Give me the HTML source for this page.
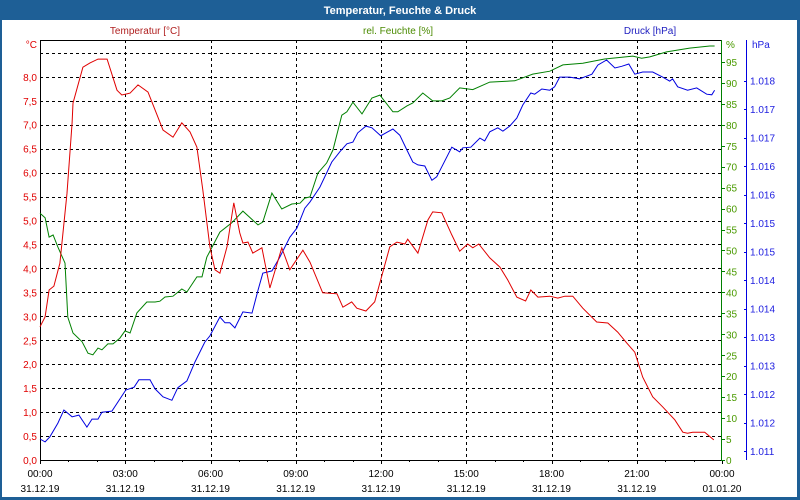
<!DOCTYPE html>
<html><head><meta charset="utf-8"><style>
body{margin:0;background:#fff}
svg{display:block;font-family:"Liberation Sans",sans-serif}
</style></head><body>
<svg id="chart" width="800" height="500" viewBox="0 0 800 500">
<rect x="0" y="0" width="800" height="500" fill="#1e5f96"/>
<rect x="2" y="20" width="795" height="477" fill="#ffffff"/>
<text x="400" y="14" text-anchor="middle" fill="#fff" font-size="11" font-weight="bold">Temperatur, Feuchte &amp; Druck</text>
<text x="145" y="34" text-anchor="middle" fill="#b02020" font-size="10">Temperatur [°C]</text>
<text x="398" y="34" text-anchor="middle" fill="#4a8a00" font-size="10">rel. Feuchte [%]</text>
<text x="650" y="34" text-anchor="middle" fill="#2020c0" font-size="10">Druck [hPa]</text>
<g id="grid"></g>
<g id="axes"></g>
<g id="series"></g>
</svg>
<script>
const xTickHours=[0,3,6,9,12,15,18,21,24];
const xTickTimes=["00:00","03:00","06:00","09:00","12:00","15:00","18:00","21:00","00:00"];
const xTickDates=["31.12.19","31.12.19","31.12.19","31.12.19","31.12.19","31.12.19","31.12.19","31.12.19","01.01.20"];
const tempTicks=[0,0.5,1,1.5,2,2.5,3,3.5,4,4.5,5,5.5,6,6.5,7,7.5,8];
const tempTickLabels=["0,0","0,5","1,0","1,5","2,0","2,5","3,0","3,5","4,0","4,5","5,0","5,5","6,0","6,5","7,0","7,5","8,0"];
const humTicks=[0,5,10,15,20,25,30,35,40,45,50,55,60,65,70,75,80,85,90,95];
const presTicks=[1011,1011.5,1012,1012.5,1013,1013.5,1014,1014.5,1015,1015.5,1016,1016.5,1017,1017.5];
const presTickLabels=["1.011","1.012","1.012","1.013","1.013","1.014","1.014","1.015","1.015","1.016","1.016","1.017","1.017","1.018"];

const tempTime=[0,.18,.32,.49,.70,.95,1.13,1.16,1.51,1.76,2.04,2.36,2.71,2.88,3.17,3.45,3.80,4.33,4.68,4.99,5.28,5.52,5.73,5.98,6.16,6.33,6.58,6.82,7.03,7.14,7.32,7.49,7.81,8.09,8.51,8.79,9.25,9.50,9.95,10.45,10.66,10.97,11.15,11.47,11.78,11.96,12.31,12.56,12.84,12.94,13.30,13.65,13.82,14.14,14.49,14.77,15.05,15.23,15.44,15.83,16.18,16.46,16.78,17.09,17.27,17.52,17.94,18.22,18.47,18.75,19.10,19.59,19.98,20.33,20.65,20.93,21.21,21.56,21.91,22.34,22.62,22.79,22.97,23.39,23.71];
const tempValues=[2.78,2.99,3.55,3.63,4.11,5.57,7.04,7.45,8.20,8.29,8.37,8.37,7.72,7.62,7.66,7.83,7.68,6.89,6.74,7.04,6.85,6.53,5.64,4.45,3.97,3.90,4.45,5.37,4.74,4.53,4.55,4.32,4.43,3.59,4.43,3.97,4.38,4.13,3.49,3.47,3.19,3.30,3.17,3.11,3.30,3.70,4.45,4.55,4.51,4.61,4.32,5.01,5.18,5.16,4.70,4.36,4.51,4.43,4.51,4.22,4.03,3.76,3.40,3.32,3.55,3.40,3.42,3.38,3.42,3.42,3.17,2.88,2.86,2.67,2.44,2.25,1.73,1.32,1.11,0.84,0.58,0.56,0.58,0.58,0.42];

const humTime=[0,.18,.32,.46,.63,.88,.98,1.16,1.48,1.69,1.86,2.04,2.18,2.39,2.57,2.81,2.99,3.17,3.41,3.76,4.05,4.22,4.40,4.68,4.99,5.17,5.52,5.70,5.87,6.33,6.75,7.14,7.67,7.84,8.16,8.51,8.86,9.15,9.32,9.50,9.78,10.09,10.31,10.62,10.80,11.01,11.33,11.68,11.96,12.42,12.59,12.91,13.12,13.47,13.82,14.14,14.42,14.77,15.23,15.83,16.71,17.34,17.94,18.40,19.10,19.87,20.86,21.17,21.46,22.05,22.86,23.57,23.74];
const humValues=[58.9,57.8,53.2,53.7,50.8,47.0,34.1,30.3,28.2,25.5,25.1,26.7,26.3,27.7,27.7,29.1,30.8,30.3,35.1,37.7,37.7,37.9,38.9,39.1,40.8,40.1,43.7,43.7,48.4,54.4,56.6,59.4,56.1,56.8,63.7,59.9,61.1,61.3,62.5,62.8,68.5,70.9,74.0,82.3,83.1,85.4,82.6,86.4,87.1,83.1,83.1,84.5,85.2,87.6,85.7,85.7,86.4,88.8,88.4,90.2,90.5,92.1,92.8,94.3,94.7,95.7,96.4,95.9,96.2,97.4,98.3,98.8,98.8];

const presTime=[0,.18,.35,.63,.84,1.13,1.37,1.65,1.83,2.04,2.18,2.53,3.02,3.31,3.48,3.87,4.05,4.33,4.64,4.85,5.17,5.45,5.80,5.98,6.33,6.51,6.68,6.86,7.14,7.46,7.67,7.84,8.16,8.44,8.79,9.04,9.32,9.50,9.85,10.27,10.55,10.80,11.01,11.18,11.47,11.68,11.99,12.24,12.42,12.66,12.91,13.12,13.30,13.54,13.79,13.96,14.49,14.77,14.88,15.16,15.48,15.65,15.83,16.11,16.29,16.53,16.78,16.99,17.27,17.41,17.66,17.94,18.11,18.29,18.64,18.99,19.42,19.63,19.94,20.23,20.47,20.72,20.93,21.21,21.56,21.91,22.16,22.26,22.44,22.79,23.11,23.46,23.64,23.74];
const presValues=[1011.21,1011.16,1011.25,1011.49,1011.72,1011.60,1011.63,1011.42,1011.56,1011.56,1011.68,1011.70,1012.07,1012.12,1012.25,1012.25,1012.09,1011.95,1011.89,1012.11,1012.23,1012.56,1012.91,1013.02,1013.35,1013.25,1013.25,1013.16,1013.44,1013.42,1013.82,1014.12,1014.16,1014.40,1014.75,1014.91,1015.26,1015.37,1015.63,1016.07,1016.25,1016.39,1016.42,1016.58,1016.70,1016.67,1016.53,1016.60,1016.65,1016.54,1016.28,1016.07,1016.02,1016.00,1015.75,1015.81,1016.33,1016.25,1016.32,1016.33,1016.49,1016.44,1016.60,1016.67,1016.61,1016.70,1016.84,1017.07,1017.28,1017.26,1017.35,1017.33,1017.39,1017.56,1017.56,1017.53,1017.61,1017.77,1017.86,1017.72,1017.75,1017.79,1017.61,1017.65,1017.65,1017.56,1017.49,1017.53,1017.39,1017.33,1017.37,1017.26,1017.25,1017.33];

const NS="http://www.w3.org/2000/svg";
const L=40,R=722,T=40,B=460;
function xS(h){return L+h*(R-L)/24;}
function yT(v){return B-v*47.9;}
function yH(v){return B-v*4.19;}
function yP(v){return 451-(v-1011)*57;}
function mk(tag,attrs,parent){const e=document.createElementNS(NS,tag);for(const k in attrs)e.setAttribute(k,attrs[k]);parent.appendChild(e);return e;}
const grid=document.getElementById('grid'),axes=document.getElementById('axes'),series=document.getElementById('series');

for(let k=1;k<=17;k++){const y=Math.round(yT(k*0.5))+0.5;
 const ln=mk('line',{x1:L,x2:R,y1:y,y2:y,stroke:'#000','stroke-dasharray':'3,3','stroke-width':1},grid);
 
 }
xTickHours.forEach((h,i)=>{const x=Math.round(xS(h))+0.5;
 if(i>0&&i<xTickHours.length-1){const ln=mk('line',{x1:x,x2:x,y1:T,y2:B,stroke:'#000','stroke-dasharray':'3,3','stroke-width':1},grid);
 
 }
 const t1=mk('text',{x:xS(h),y:477,'text-anchor':'middle','font-size':'10',fill:'#000'},axes);t1.textContent=xTickTimes[i];
 
 
 const t2=mk('text',{x:xS(h),y:492,'text-anchor':'middle','font-size':'10',fill:'#000'},axes);t2.textContent=xTickDates[i];
 
 
 const tk=mk('line',{x1:x,x2:x,y1:B,y2:B+4,stroke:'#000'},axes);
 
 });
for(let h=0;h<=24;h++){const x=Math.round(xS(h))+0.5;const tk=mk('line',{x1:x,x2:x,y1:B,y2:B+2,stroke:'#000'},axes);
 
 }
const frame=mk('path',{d:`M${L+.5},${B+.5}V${T+.5}H${R}`,fill:'none',stroke:'#000'},axes);


const xAxis=mk('line',{x1:L,x2:R,y1:B+.5,y2:B+.5,stroke:'#000'},axes);


tempTicks.forEach((v,i)=>{const t=mk('text',{x:37,y:yT(v)+4,'text-anchor':'end','font-size':'10',fill:'#e00000'},axes);t.textContent=tempTickLabels[i];
 
 });
const cu=mk('text',{x:37,y:48,'text-anchor':'end','font-size':'10',fill:'#e00000'},axes);cu.textContent='°C';


const hAx=mk('line',{x1:721.5,x2:721.5,y1:T,y2:B,stroke:'#008000'},axes);


humTicks.forEach(v=>{const y=Math.round(yH(v))+0.5;const tk=mk('line',{x1:721,x2:725,y1:y,y2:y,stroke:'#008000'},axes);
 
 
 const t=mk('text',{x:726,y:yH(v)+4,'font-size':'10',fill:'#4a9a00'},axes);t.textContent=String(v);
 
 });
const hu=mk('text',{x:726,y:48,'font-size':'10',fill:'#4a9a00'},axes);hu.textContent='%';


const pAx=mk('line',{x1:746.5,x2:746.5,y1:T,y2:B,stroke:'#0000e0'},axes);


presTicks.forEach((v,i)=>{const y=Math.round(yP(v))+0.5;const tk=mk('line',{x1:744,x2:747,y1:y,y2:y,stroke:'#0000e0'},axes);
 
 
 const t=mk('text',{x:750,y:yP(v)+4,'font-size':'10',fill:'#2020e0'},axes);t.textContent=presTickLabels[i];
 
 });
const pu=mk('text',{x:752,y:48,'font-size':'10',fill:'#2020e0'},axes);pu.textContent='hPa';



function line(ts,vs,yf,color){return mk('polyline',{points:ts.map((t,i)=>xS(t).toFixed(1)+','+yf(vs[i]).toFixed(1)).join(' '),fill:'none',stroke:color,'stroke-width':1},series);}
const lh=line(humTime,humValues,yH,'#008000');


const lp=line(presTime,presValues,yP,'#0000e0');


const lt=line(tempTime,tempValues,yT,'#e00000');


</script>
</body></html>
